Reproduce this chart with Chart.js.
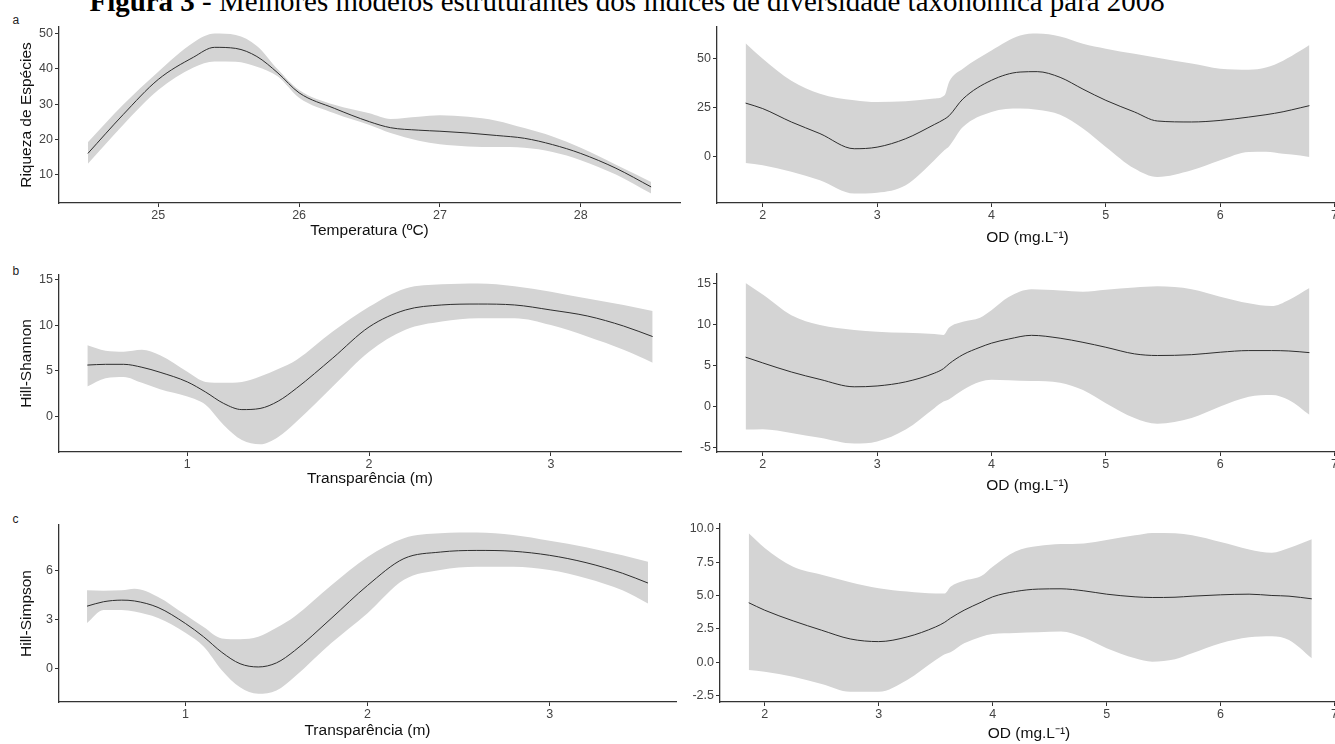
<!DOCTYPE html>
<html><head><meta charset="utf-8">
<script src="https://cdn.jsdelivr.net/npm/chart.js@4.4.1/dist/chart.umd.min.js"></script>
<style>
html,body{margin:0;padding:0;background:#fff;}
body{width:1335px;height:744px;overflow:hidden;position:relative;}
canvas{position:absolute;}
.lbl{position:absolute;font-family:'Liberation Sans',Arial,sans-serif;font-size:12px;line-height:1;color:#222;}
#title{position:absolute;white-space:nowrap;font-family:'Liberation Serif','Times New Roman',serif;line-height:1;color:#000;font-size:26px;}
</style></head><body>
<div id="title"><b>Figura 3</b> - Melhores modelos estruturantes dos índices de diversidade taxonômica para 2008</div>
<div class="lbl" style="left:12.5px;top:13.8px">a</div>
<div class="lbl" style="left:12.5px;top:264.8px">b</div>
<div class="lbl" style="left:12.5px;top:513.3px">c</div>
<script>
// ---------- DATA ----------
// Panel a: Riqueza de Espécies vs Temperatura
const tempX      = [24.5,24.75,25.0,25.25,25.4,25.55,25.7,25.85,26.0,26.25,26.5,26.65,26.85,27.0,27.2,27.4,27.6,27.8,28.0,28.25,28.5];
const riqTempFit = [16.0,27.0,37.0,43.3,46.1,45.8,43.5,38.8,33.2,28.8,25.0,23.3,22.6,22.3,21.8,21.1,20.3,18.5,16.0,11.8,6.5];
const riqTempHi  = [19.2,29.8,39.2,47.5,50.0,49.6,46.5,39.8,34.0,29.8,27.4,25.8,26.4,26.8,26.4,25.3,23.2,20.8,17.6,12.8,7.9];
const riqTempLo  = [13.1,24.1,34.0,40.4,42.1,42.0,40.6,37.8,31.8,27.4,24.1,21.8,19.6,18.6,18.0,17.8,17.6,16.4,14.1,10.0,4.6];

// Panel d: Riqueza vs OD
const odRiqX    = [1.85,2.0,2.25,2.5,2.8,3.0,3.25,3.5,3.59,3.63,3.75,4.0,4.25,4.4,4.6,4.8,5.0,5.25,5.45,5.75,6.0,6.25,6.4,6.55,6.7,6.78];
const riqOdFit  = [27.4,24.6,17.8,11.9,4.2,5.0,9.3,16.5,19.3,21.0,29.5,39.0,43.2,43.4,40.5,34.5,28.8,22.9,18.3,17.8,18.6,20.3,21.5,23.0,25.0,26.1];
const riqOdHi   = [57.9,50.0,38.8,32.2,28.8,27.9,28.3,29.7,31.4,38.3,44.9,54.2,61.8,62.8,61.3,57.6,55.1,52.5,50.5,47.5,44.9,44.4,45.5,49.0,54.0,57.0];
const riqOdLo   = [-3.0,-4.2,-7.5,-11.8,-18.6,-18.2,-14.4,-1.7,3.5,5.5,15.2,22.9,24.6,24.0,21.5,14.5,5.1,-5.9,-10.2,-6.8,-1.7,2.5,2.6,1.6,0.7,0.0];

// Panel b: Hill-Shannon vs Transparência
const transShanX   = [0.45,0.55,0.65,0.75,0.85,1.0,1.1,1.2,1.3,1.4,1.5,1.6,1.8,2.0,2.2,2.4,2.6,2.8,3.0,3.2,3.4,3.56];
const shanTransFit = [5.64,5.72,5.72,5.4,4.85,3.8,2.7,1.45,0.78,0.9,1.7,3.1,6.4,9.8,11.65,12.2,12.3,12.2,11.65,11.0,9.9,8.75];
const shanTransHi  = [7.8,7.2,7.1,7.3,6.7,4.9,3.8,3.7,3.8,4.4,5.2,6.2,9.3,12.0,14.0,14.45,14.55,14.25,13.65,12.9,12.2,11.55];
const shanTransLo  = [3.3,4.2,4.35,3.7,3.0,2.2,1.3,-0.9,-2.55,-3.0,-2.2,-0.55,3.3,7.1,9.5,10.4,10.75,10.75,10.0,8.75,7.3,5.9];

// Panel e: Hill-Shannon vs OD
const odShanX   = [1.85,2.0,2.25,2.5,2.8,3.0,3.25,3.5,3.58,3.63,3.75,3.9,4.0,4.15,4.35,4.6,4.8,5.0,5.25,5.45,5.75,6.0,6.25,6.45,6.6,6.78];
const shanOdFit = [6.0,5.3,4.2,3.3,2.4,2.5,3.0,4.05,4.6,5.2,6.3,7.2,7.7,8.2,8.65,8.3,7.8,7.2,6.4,6.2,6.3,6.6,6.8,6.8,6.75,6.55];
const shanOdHi  = [15.0,13.6,11.1,9.9,9.3,9.1,8.95,8.8,8.7,9.6,10.3,10.8,11.7,13.3,14.25,14.1,13.95,14.2,14.45,14.6,14.25,13.35,12.55,12.2,12.95,14.4];
const shanOdLo  = [-2.8,-2.75,-3.2,-3.8,-4.5,-4.25,-2.8,-0.2,0.6,0.9,2.0,3.0,3.25,3.2,3.1,2.9,2.0,0.4,-1.4,-2.1,-1.4,0.0,1.2,1.4,0.8,-1.0];

// Panel c: Hill-Simpson vs Transparência
const transSimpX   = [0.46,0.55,0.65,0.72,0.85,1.0,1.1,1.2,1.3,1.4,1.5,1.6,1.8,2.0,2.2,2.4,2.6,2.8,3.0,3.2,3.4,3.54];
const simpTransFit = [3.83,4.1,4.2,4.15,3.75,2.77,1.95,1.0,0.3,0.1,0.35,1.1,3.07,5.1,6.75,7.15,7.25,7.2,6.95,6.5,5.85,5.25];
const simpTransHi  = [4.8,4.78,4.8,4.9,4.4,3.3,2.55,1.85,1.8,1.95,2.5,3.2,5.1,6.85,8.0,8.3,8.35,8.2,7.85,7.45,6.95,6.55];
const simpTransLo  = [2.8,3.6,3.6,3.5,3.1,2.2,1.35,-0.1,-1.15,-1.55,-1.35,-0.5,1.55,3.4,5.45,6.05,6.25,6.25,6.05,5.55,4.8,4.0];

// Panel f: Hill-Simpson vs OD
const odSimpX   = [1.86,2.0,2.25,2.5,2.75,3.0,3.25,3.5,3.58,3.63,3.75,3.9,4.0,4.2,4.4,4.6,4.8,5.0,5.25,5.4,5.6,5.75,6.0,6.25,6.45,6.6,6.8];
const simpOdFit = [4.46,3.9,3.1,2.4,1.75,1.55,1.9,2.65,3.0,3.3,3.9,4.5,4.9,5.3,5.48,5.5,5.35,5.1,4.9,4.85,4.87,4.95,5.05,5.1,5.0,4.95,4.75];
const simpOdHi  = [9.65,8.55,7.15,6.55,6.0,5.55,5.3,5.15,5.15,5.65,6.1,6.45,7.15,8.3,8.7,8.85,8.9,9.15,9.5,9.68,9.65,9.5,9.0,8.45,8.2,8.55,9.2];
const simpOdLo  = [-0.58,-0.7,-1.08,-1.62,-2.2,-2.2,-1.32,0.17,0.6,0.75,1.42,1.92,2.12,2.2,2.25,2.3,1.85,1.05,0.3,0.05,0.22,0.67,1.42,1.87,1.95,1.67,0.3];

// Tick values
const tempTicks   = [25,26,27,28];
const odTicks     = [2,3,4,5,6,7];
const transTicks  = [1,2,3];
const riqTicksL   = [10,20,30,40,50];
const riqTicksR   = [0,25,50];
const shanTicksL  = [0,5,10,15];
const shanTicksR  = [-5,0,5,10,15];
const simpTicksL  = [0,3,6];
const simpTicksR  = [-2.5,0,2.5,5,7.5,10];

// Axis titles
const titleTemp  = 'Temperatura (ºC)';
const titleOD    = 'OD (mg.L\u207B\u00B9)';
const titleTrans = 'Transparência (m)';
const titleRiq   = 'Riqueza de Espécies';
const titleShan  = 'Hill-Shannon';
const titleSimp  = 'Hill-Simpson';

// ---------- STYLE ----------
const FONT = "'Liberation Sans', Arial, sans-serif";
const BAND = '#d4d4d4';
const LINE = '#2e2e2e';
const AXIS = '#333333';
const TICKC = '#444444';
const TITLE_FS = 15.5, TICK_FS = 12.5;
Chart.defaults.font.family = FONT;

// page title sizing
(function(){
  const el = document.getElementById('title');
  const w = el.getBoundingClientRect().width;
  const fs = 26 * 1076 / w;
  el.style.fontSize = fs + 'px';
  el.style.left = '89.5px';
  el.style.top = (11.7 - 0.8375 * fs) + 'px';
})();

function panel(c){
  const cv = document.createElement('canvas');
  const cl = c.canvasLeft, ct = c.box.t - 8;
  const cw = c.box.r + 12 - cl, ch = c.box.b + 45 - ct;
  cv.width = cw; cv.height = ch;
  cv.style.left = cl + 'px'; cv.style.top = ct + 'px';
  cv.style.width = cw + 'px'; cv.style.height = ch + 'px';
  document.body.appendChild(cv);
  const pts = (xs, ys) => xs.map((x, i) => ({x: x, y: ys[i]}));
  const lh = TITLE_FS * 1.2;
  const common = {
    grid: {drawOnChartArea: false, drawTicks: true, tickLength: 4, color: AXIS, lineWidth: 1},
    border: {display: true, color: AXIS, width: 1.3}
  };
  const ds = [
    {data: pts(c.x, c.fit), borderColor: LINE, borderWidth: 1, pointRadius: 0, fill: false, cubicInterpolationMode: 'monotone', order: 0},
    {data: pts(c.x, c.hi), borderWidth: 0, borderColor: 'rgba(0,0,0,0)', backgroundColor: BAND, pointRadius: 0, fill: '+1', cubicInterpolationMode: 'monotone', order: 1},
    {data: pts(c.x, c.lo), borderWidth: 0, borderColor: 'rgba(0,0,0,0)', backgroundColor: BAND, pointRadius: 0, fill: false, cubicInterpolationMode: 'monotone', order: 2}
  ];
  const yScale = Object.assign({}, common, {
    type: 'linear', min: c.yMin, max: c.yMax,
    afterBuildTicks: s => { s.ticks = c.yTicks.map(v => ({value: v})); },
    afterFit: s => { s.width = c.box.l - cl; s.paddingTop = 0; s.paddingBottom = 0; },
    ticks: {autoSkip: false, padding: 2, color: TICKC, font: {size: TICK_FS}, callback: v => c.yFmt ? c.yFmt(v) : String(v)},
    title: c.yTitle ? {display: true, text: c.yTitle, color: '#111', font: {size: TITLE_FS},
      padding: {top: c.yTitleX - cl - lh / 2, bottom: 0}} : {display: false}
  });
  const xScale = Object.assign({}, common, {
    type: 'linear', min: c.xMin, max: c.xMax,
    afterBuildTicks: s => { s.ticks = c.xTicks.map(v => ({value: v})); },
    afterFit: s => { s.height = 45; s.paddingLeft = 0; s.paddingRight = 0; },
    ticks: {autoSkip: false, maxRotation: 0, padding: 1, color: TICKC, font: {size: TICK_FS}, callback: v => String(v)},
    title: {display: true, text: c.xTitle, color: '#111', font: {size: TITLE_FS},
      padding: {top: 0, bottom: ch - lh / 2 - (c.xTitleY - ct)}}
  });
  new Chart(cv, {
    type: 'line',
    data: {datasets: ds},
    options: {
      responsive: false, animation: false, devicePixelRatio: 1,
      layout: {autoPadding: false, padding: {top: 8, right: 12, left: 0, bottom: 0}},
      plugins: {legend: {display: false}, tooltip: {enabled: false}},
      scales: {x: xScale, y: yScale}
    }
  });
}

panel({canvasLeft: 0, box: {l: 59, t: 27, r: 680, b: 203}, xMin: 24.295, xMax: 28.705, yMin: 1.94, yMax: 51.87,
  xTicks: tempTicks, yTicks: riqTicksL, xTitle: titleTemp, yTitle: titleRiq, xTitleY: 230.5, yTitleX: 27,
  x: tempX, fit: riqTempFit, hi: riqTempHi, lo: riqTempLo});
panel({canvasLeft: 684, box: {l: 717, t: 27, r: 1338, b: 203}, xMin: 1.6, xMax: 7.03, yMin: -23.4, yMax: 66.1,
  xTicks: odTicks, yTicks: riqTicksR, xTitle: titleOD, xTitleY: 238,
  x: odRiqX, fit: riqOdFit, hi: riqOdHi, lo: riqOdLo});
panel({canvasLeft: 0, box: {l: 59, t: 275, r: 681, b: 452}, xMin: 0.294, xMax: 3.716, yMin: -3.85, yMax: 15.47,
  xTicks: transTicks, yTicks: shanTicksL, xTitle: titleTrans, yTitle: titleShan, xTitleY: 479, yTitleX: 27,
  x: transShanX, fit: shanTransFit, hi: shanTransHi, lo: shanTransLo});
panel({canvasLeft: 684, box: {l: 717, t: 274, r: 1338, b: 452}, xMin: 1.6, xMax: 7.03, yMin: -5.52, yMax: 16.1,
  xTicks: odTicks, yTicks: shanTicksR, xTitle: titleOD, xTitleY: 485.5,
  x: odShanX, fit: shanOdFit, hi: shanOdHi, lo: shanOdLo});
panel({canvasLeft: 0, box: {l: 59, t: 525, r: 676, b: 702}, xMin: 0.306, xMax: 3.694, yMin: -2.05, yMax: 8.81,
  xTicks: transTicks, yTicks: simpTicksL, xTitle: titleTrans, yTitle: titleSimp, xTitleY: 731, yTitleX: 27,
  x: transSimpX, fit: simpTransFit, hi: simpTransHi, lo: simpTransLo});
panel({canvasLeft: 684, box: {l: 720, t: 524, r: 1338, b: 702}, xMin: 1.608, xMax: 7.03, yMin: -2.97, yMax: 10.35,
  xTicks: odTicks, yTicks: simpTicksR, xTitle: titleOD, xTitleY: 734,
  x: odSimpX, fit: simpOdFit, hi: simpOdHi, lo: simpOdLo, yFmt: v => v.toFixed(1)});
</script>
</body></html>
